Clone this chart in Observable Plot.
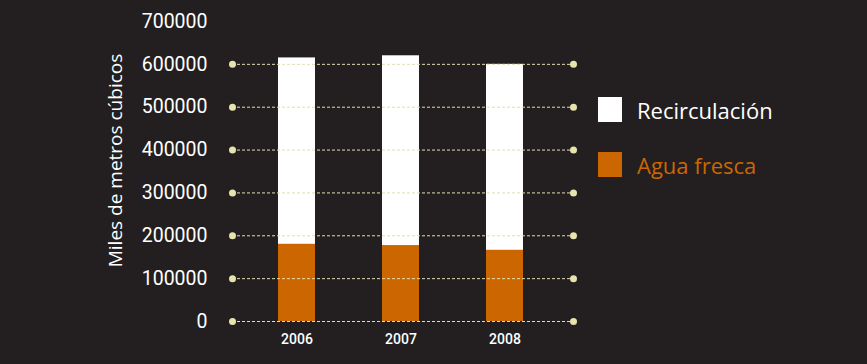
<!DOCTYPE html>
<html>
<head>
<meta charset="utf-8">
<script src="https://cdn.jsdelivr.net/npm/d3@7"></script>
<script src="https://cdn.jsdelivr.net/npm/@observablehq/plot@0.6"></script>
<style>
  html, body { margin: 0; padding: 0; background: #231f20; }
  #wrap { position: relative; width: 867px; height: 364px; background: #231f20; overflow: hidden; }
  .leg { position: absolute; left: 598px; display: flex; align-items: center; font-family: "Open Sans", sans-serif; font-size: 22px; }
  .sw { width: 24px; height: 25px; margin-right: 15px; }
</style>
</head>
<body>
<div id="wrap"></div>
<script>
const years = ["2006", "2007", "2008"];
const freshWater = [180000, 177000, 166000];
const recirculation = [435000, 443000, 434000];
const seriesNames = ["Agua fresca", "Recirculación"];
const seriesColors = ["#cc6600", "#ffffff"];
const yTicks = [0, 100000, 200000, 300000, 400000, 500000, 600000, 700000];
const gridTicks = [0, 100000, 200000, 300000, 400000, 500000, 600000];

const data = [];
years.forEach((y, i) => {
  data.push({year: y, series: seriesNames[0], value: freshWater[i]});
  data.push({year: y, series: seriesNames[1], value: recirculation[i]});
});

const chart = Plot.plot({
  width: 867,
  height: 364,
  marginLeft: 232,
  marginRight: 294,
  marginTop: 21,
  marginBottom: 43,
  style: {background: "#231f20", color: "#ffffff"},
  x: {domain: years, paddingInner: 0.645, paddingOuter: 0.45, align: 0.48, label: null, axis: null},
  y: {domain: [0, 700000], label: null, axis: null},
  color: {domain: seriesNames, range: seriesColors},
  marks: [
    Plot.barY(data, {x: "year", y: "value", fill: "series", order: seriesNames}),
    Plot.ruleY(gridTicks, {stroke: "#e2deb0", strokeWidth: 1, strokeDasharray: "3,2"}),
    Plot.dot(gridTicks, {y: d => d, frameAnchor: "left", r: 3.5, fill: "#e6e4ac", stroke: "none"}),
    Plot.dot(gridTicks, {y: d => d, frameAnchor: "right", r: 3.5, fill: "#e6e4ac", stroke: "none"}),
    Plot.text(yTicks, {y: d => d, frameAnchor: "left", dx: -25, textAnchor: "end", text: d => String(d),
      fill: "#ffffff", fontSize: 19.5, fontFamily: "Roboto, sans-serif"}),
    Plot.text(years, {x: d => d, frameAnchor: "bottom", dy: 22, text: d => d,
      fill: "#ffffff", fontSize: 14, fontWeight: 500, fontFamily: "Roboto, sans-serif"}),
    Plot.text(["Miles de metros cúbicos"], {frameAnchor: "left", dx: -117, dy: -11, rotate: -90, textAnchor: "middle", text: d => d,
      fill: "#ffffff", fontSize: 19, fontFamily: "Open Sans, sans-serif"})
  ]
});

const wrap = document.getElementById("wrap");
wrap.appendChild(chart);

const legendItems = [
  {name: seriesNames[1], color: seriesColors[1], top: 97},
  {name: seriesNames[0], color: seriesColors[0], top: 152}
];
for (const it of legendItems) {
  const d = document.createElement("div");
  d.className = "leg";
  d.style.top = it.top + "px";
  d.style.height = "25px";
  const sw = document.createElement("div");
  sw.className = "sw";
  sw.style.background = it.color;
  const t = document.createElement("span");
  t.textContent = it.name;
  t.style.color = it.color;
  d.appendChild(sw);
  d.appendChild(t);
  wrap.appendChild(d);
}
</script>
</body>
</html>
